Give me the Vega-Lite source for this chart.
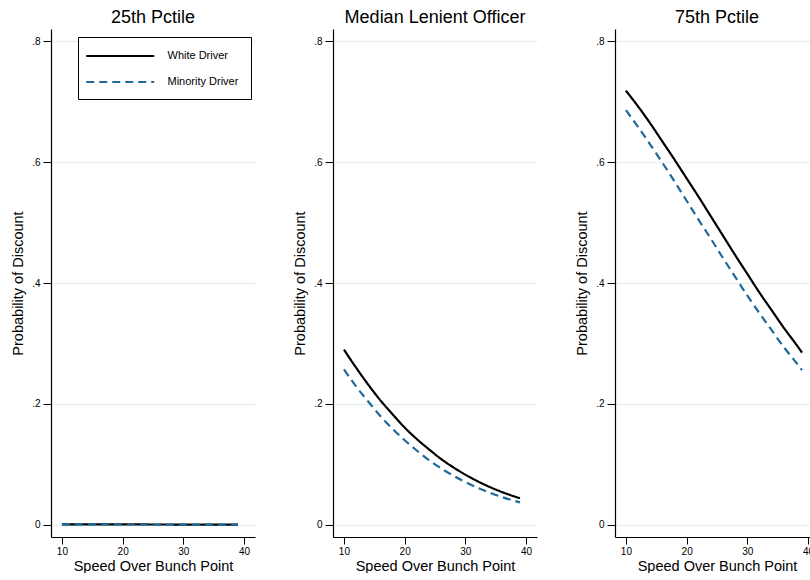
{
  "$schema": "https://vega.github.io/schema/vega-lite/v6.json",
  "background": "white",
  "padding": {"left": 10, "top": 9, "right": 0, "bottom": 0},
  "spacing": 37,
  "config": {
    "font": "Liberation Sans",
    "view": {"stroke": null},
    "axis": {
      "domainColor": "black", "domainWidth": 1.2, "tickColor": "black", "tickWidth": 1,
      "labelColor": "black", "titleColor": "black", "labelFont": "Liberation Sans", "titleFont": "Liberation Sans",
      "titleFontWeight": "normal", "labelFontSize": 10
    }
  },
  "datasets": {
    "d": [
      {"panel": "p25", "driver": "White Driver", "speed": 10, "prob": 0.001},
      {"panel": "p25", "driver": "White Driver", "speed": 20, "prob": 0.0008},
      {"panel": "p25", "driver": "White Driver", "speed": 30, "prob": 0.0006},
      {"panel": "p25", "driver": "White Driver", "speed": 39, "prob": 0.0005},
      {"panel": "p25", "driver": "Minority Driver", "speed": 10, "prob": 0.0009},
      {"panel": "p25", "driver": "Minority Driver", "speed": 20, "prob": 0.0007},
      {"panel": "p25", "driver": "Minority Driver", "speed": 30, "prob": 0.0005},
      {"panel": "p25", "driver": "Minority Driver", "speed": 39, "prob": 0.0004},

      {"panel": "p50", "driver": "White Driver", "speed": 10, "prob": 0.290},
      {"panel": "p50", "driver": "White Driver", "speed": 12, "prob": 0.260},
      {"panel": "p50", "driver": "White Driver", "speed": 14, "prob": 0.232},
      {"panel": "p50", "driver": "White Driver", "speed": 16, "prob": 0.206},
      {"panel": "p50", "driver": "White Driver", "speed": 18, "prob": 0.183},
      {"panel": "p50", "driver": "White Driver", "speed": 20, "prob": 0.161},
      {"panel": "p50", "driver": "White Driver", "speed": 22, "prob": 0.142},
      {"panel": "p50", "driver": "White Driver", "speed": 24, "prob": 0.125},
      {"panel": "p50", "driver": "White Driver", "speed": 26, "prob": 0.109},
      {"panel": "p50", "driver": "White Driver", "speed": 28, "prob": 0.0953},
      {"panel": "p50", "driver": "White Driver", "speed": 30, "prob": 0.0831},
      {"panel": "p50", "driver": "White Driver", "speed": 32, "prob": 0.0723},
      {"panel": "p50", "driver": "White Driver", "speed": 34, "prob": 0.0628},
      {"panel": "p50", "driver": "White Driver", "speed": 36, "prob": 0.0545},
      {"panel": "p50", "driver": "White Driver", "speed": 38, "prob": 0.0473},
      {"panel": "p50", "driver": "White Driver", "speed": 39, "prob": 0.0440},
      {"panel": "p50", "driver": "Minority Driver", "speed": 10, "prob": 0.257},
      {"panel": "p50", "driver": "Minority Driver", "speed": 12, "prob": 0.229},
      {"panel": "p50", "driver": "Minority Driver", "speed": 14, "prob": 0.204},
      {"panel": "p50", "driver": "Minority Driver", "speed": 16, "prob": 0.180},
      {"panel": "p50", "driver": "Minority Driver", "speed": 18, "prob": 0.159},
      {"panel": "p50", "driver": "Minority Driver", "speed": 20, "prob": 0.140},
      {"panel": "p50", "driver": "Minority Driver", "speed": 22, "prob": 0.123},
      {"panel": "p50", "driver": "Minority Driver", "speed": 24, "prob": 0.107},
      {"panel": "p50", "driver": "Minority Driver", "speed": 26, "prob": 0.0936},
      {"panel": "p50", "driver": "Minority Driver", "speed": 28, "prob": 0.0815},
      {"panel": "p50", "driver": "Minority Driver", "speed": 30, "prob": 0.0709},
      {"panel": "p50", "driver": "Minority Driver", "speed": 32, "prob": 0.0616},
      {"panel": "p50", "driver": "Minority Driver", "speed": 34, "prob": 0.0534},
      {"panel": "p50", "driver": "Minority Driver", "speed": 36, "prob": 0.0462},
      {"panel": "p50", "driver": "Minority Driver", "speed": 38, "prob": 0.0400},
      {"panel": "p50", "driver": "Minority Driver", "speed": 39, "prob": 0.0372},

      {"panel": "p75", "driver": "White Driver", "speed": 10, "prob": 0.718},
      {"panel": "p75", "driver": "White Driver", "speed": 12, "prob": 0.692},
      {"panel": "p75", "driver": "White Driver", "speed": 14, "prob": 0.664},
      {"panel": "p75", "driver": "White Driver", "speed": 16, "prob": 0.634},
      {"panel": "p75", "driver": "White Driver", "speed": 18, "prob": 0.604},
      {"panel": "p75", "driver": "White Driver", "speed": 20, "prob": 0.573},
      {"panel": "p75", "driver": "White Driver", "speed": 22, "prob": 0.542},
      {"panel": "p75", "driver": "White Driver", "speed": 24, "prob": 0.510},
      {"panel": "p75", "driver": "White Driver", "speed": 26, "prob": 0.478},
      {"panel": "p75", "driver": "White Driver", "speed": 28, "prob": 0.446},
      {"panel": "p75", "driver": "White Driver", "speed": 30, "prob": 0.415},
      {"panel": "p75", "driver": "White Driver", "speed": 32, "prob": 0.384},
      {"panel": "p75", "driver": "White Driver", "speed": 34, "prob": 0.355},
      {"panel": "p75", "driver": "White Driver", "speed": 36, "prob": 0.326},
      {"panel": "p75", "driver": "White Driver", "speed": 38, "prob": 0.299},
      {"panel": "p75", "driver": "White Driver", "speed": 39, "prob": 0.285},
      {"panel": "p75", "driver": "Minority Driver", "speed": 10, "prob": 0.686},
      {"panel": "p75", "driver": "Minority Driver", "speed": 12, "prob": 0.658},
      {"panel": "p75", "driver": "Minority Driver", "speed": 14, "prob": 0.629},
      {"panel": "p75", "driver": "Minority Driver", "speed": 16, "prob": 0.599},
      {"panel": "p75", "driver": "Minority Driver", "speed": 18, "prob": 0.568},
      {"panel": "p75", "driver": "Minority Driver", "speed": 20, "prob": 0.536},
      {"panel": "p75", "driver": "Minority Driver", "speed": 22, "prob": 0.504},
      {"panel": "p75", "driver": "Minority Driver", "speed": 24, "prob": 0.473},
      {"panel": "p75", "driver": "Minority Driver", "speed": 26, "prob": 0.441},
      {"panel": "p75", "driver": "Minority Driver", "speed": 28, "prob": 0.410},
      {"panel": "p75", "driver": "Minority Driver", "speed": 30, "prob": 0.379},
      {"panel": "p75", "driver": "Minority Driver", "speed": 32, "prob": 0.350},
      {"panel": "p75", "driver": "Minority Driver", "speed": 34, "prob": 0.322},
      {"panel": "p75", "driver": "Minority Driver", "speed": 36, "prob": 0.294},
      {"panel": "p75", "driver": "Minority Driver", "speed": 38, "prob": 0.269},
      {"panel": "p75", "driver": "Minority Driver", "speed": 39, "prob": 0.256}
    ]
  },
  "resolve": {"legend": {"color": "independent", "strokeDash": "independent"}},
  "hconcat": [
    {
      "title": {"text": "25th Pctile", "fontSize": 18, "fontWeight": "normal", "font": "Liberation Sans", "color": "black", "offset": 2, "frame": "group"},
      "width": 204, "height": 508,
      "data": {"name": "d"},
      "transform": [{"filter": "datum.panel == 'p25'"}],
      "mark": {"type": "line", "strokeWidth": 2.2, "interpolate": "monotone"},
      "encoding": {
        "x": {"field": "speed", "type": "quantitative", "scale": {"domain": [8.2, 41.8], "nice": false, "zero": false},
              "axis": {"values": [10, 20, 30, 40], "grid": false, "title": "Speed Over Bunch Point", "titleFontSize": 14.5, "titleFontWeight": "normal", "titlePadding": 3, "tickSize": 7, "labelPadding": 2}},
        "y": {"field": "prob", "type": "quantitative", "scale": {"domain": [-0.02, 0.82], "nice": false, "zero": false},
              "axis": {"values": [0, 0.2, 0.4, 0.6, 0.8], "grid": true, "gridColor": "#e9f1f2", "gridWidth": 1.5,
                       "labelExpr": "datum.value == 0 ? '0' : replace(format(datum.value, '.1f'), '0.', '.')",
                       "title": "Probability of Discount", "titleFontSize": 14.5, "titleFontWeight": "normal", "titlePadding": 6, "tickSize": 8, "labelPadding": 3}},
        "color": {"field": "driver", "type": "nominal", "sort": ["White Driver", "Minority Driver"],
                  "scale": {"domain": ["White Driver", "Minority Driver"], "range": ["#000000", "#1f6a9a"]},
                  "legend": {"title": null, "orient": "none", "legendX": 27, "legendY": 8, "strokeColor": "black",
                             "fillColor": "white", "padding": 12, "symbolType": "M-1.9,0H10.1", "symbolSize": 128.4, "symbolStrokeWidth": 2.2,
                             "labelFontSize": 11, "labelOffset": 63.5, "rowPadding": 14, "labelColor": "black", "labelFont": "Liberation Sans"}},
        "strokeDash": {"field": "driver", "type": "nominal", "sort": ["White Driver", "Minority Driver"],
                       "scale": {"domain": ["White Driver", "Minority Driver"], "range": [[1, 0], [8, 5]]},
                       "legend": {"title": null, "orient": "none", "legendX": 27, "legendY": 8, "strokeColor": "black",
                             "fillColor": "white", "padding": 12, "symbolType": "M-1.9,0H10.1", "symbolSize": 128.4, "symbolStrokeWidth": 2.2,
                             "labelFontSize": 11, "labelOffset": 63.5, "rowPadding": 14, "labelColor": "black", "labelFont": "Liberation Sans"}}
      }
    },
    {
      "title": {"text": "Median Lenient Officer", "fontSize": 18, "fontWeight": "normal", "font": "Liberation Sans", "color": "black", "offset": 2, "frame": "group"},
      "width": 204, "height": 508,
      "data": {"name": "d"},
      "transform": [{"filter": "datum.panel == 'p50'"}],
      "mark": {"type": "line", "strokeWidth": 2.2, "interpolate": "monotone"},
      "encoding": {
        "x": {"field": "speed", "type": "quantitative", "scale": {"domain": [8.2, 41.8], "nice": false, "zero": false},
              "axis": {"values": [10, 20, 30, 40], "grid": false, "title": "Speed Over Bunch Point", "titleFontSize": 14.5, "titleFontWeight": "normal", "titlePadding": 3, "tickSize": 7, "labelPadding": 2}},
        "y": {"field": "prob", "type": "quantitative", "scale": {"domain": [-0.02, 0.82], "nice": false, "zero": false},
              "axis": {"values": [0, 0.2, 0.4, 0.6, 0.8], "grid": true, "gridColor": "#e9f1f2", "gridWidth": 1.5,
                       "labelExpr": "datum.value == 0 ? '0' : replace(format(datum.value, '.1f'), '0.', '.')",
                       "title": "Probability of Discount", "titleFontSize": 14.5, "titleFontWeight": "normal", "titlePadding": 6, "tickSize": 8, "labelPadding": 3}},
        "color": {"field": "driver", "type": "nominal",
                  "scale": {"domain": ["White Driver", "Minority Driver"], "range": ["#000000", "#1f6a9a"]}, "legend": null},
        "strokeDash": {"field": "driver", "type": "nominal",
                       "scale": {"domain": ["White Driver", "Minority Driver"], "range": [[1, 0], [8, 5]]}, "legend": null}
      }
    },
    {
      "title": {"text": "75th Pctile", "fontSize": 18, "fontWeight": "normal", "font": "Liberation Sans", "color": "black", "offset": 2, "frame": "group"},
      "width": 204, "height": 508,
      "data": {"name": "d"},
      "transform": [{"filter": "datum.panel == 'p75'"}],
      "mark": {"type": "line", "strokeWidth": 2.2, "interpolate": "monotone"},
      "encoding": {
        "x": {"field": "speed", "type": "quantitative", "scale": {"domain": [8.2, 41.8], "nice": false, "zero": false},
              "axis": {"values": [10, 20, 30, 40], "grid": false, "title": "Speed Over Bunch Point", "titleFontSize": 14.5, "titleFontWeight": "normal", "titlePadding": 3, "tickSize": 7, "labelPadding": 2}},
        "y": {"field": "prob", "type": "quantitative", "scale": {"domain": [-0.02, 0.82], "nice": false, "zero": false},
              "axis": {"values": [0, 0.2, 0.4, 0.6, 0.8], "grid": true, "gridColor": "#e9f1f2", "gridWidth": 1.5,
                       "labelExpr": "datum.value == 0 ? '0' : replace(format(datum.value, '.1f'), '0.', '.')",
                       "title": "Probability of Discount", "titleFontSize": 14.5, "titleFontWeight": "normal", "titlePadding": 6, "tickSize": 8, "labelPadding": 3}},
        "color": {"field": "driver", "type": "nominal",
                  "scale": {"domain": ["White Driver", "Minority Driver"], "range": ["#000000", "#1f6a9a"]}, "legend": null},
        "strokeDash": {"field": "driver", "type": "nominal",
                       "scale": {"domain": ["White Driver", "Minority Driver"], "range": [[1, 0], [8, 5]]}, "legend": null}
      }
    }
  ]
}
